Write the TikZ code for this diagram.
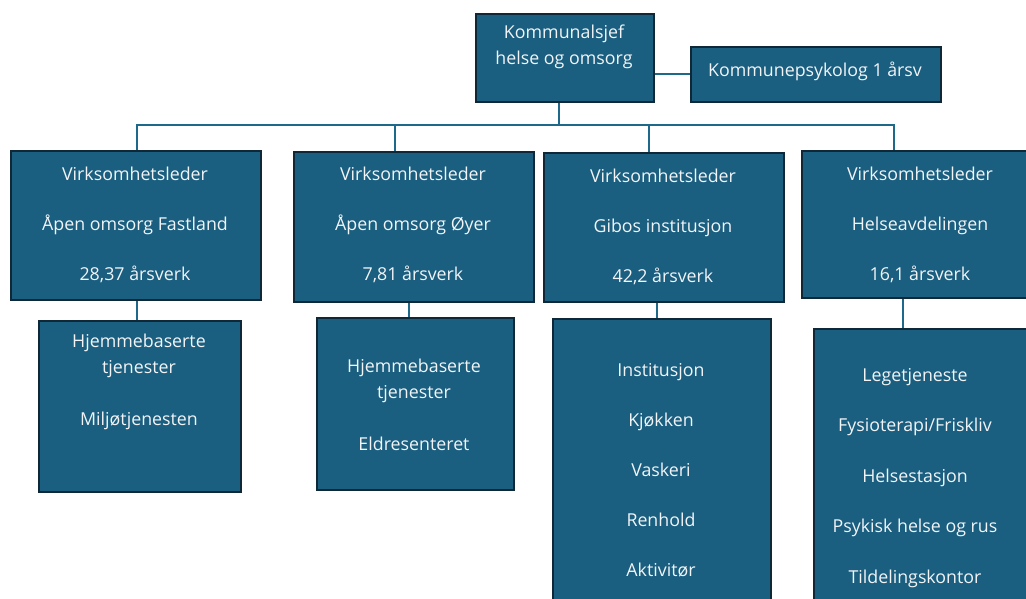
\documentclass[tikz,border=0pt]{standalone}
\usepackage{fontspec}
\setmainfont{Open Sans}
\definecolor{boxfill}{RGB}{26,94,128}
\definecolor{boxedge}{RGB}{14,40,56}
\definecolor{connc}{RGB}{30,104,138}
\definecolor{txtc}{RGB}{242,244,246}
\tikzset{
  box/.style={draw=boxedge, line width=1.6pt, fill=boxfill, inner sep=0pt, anchor=north west},
  txt/.style={text=txtc, align=center, inner sep=0pt, font=\fontsize{17.8}{26}\selectfont},
  wide/.style={txt, font=\fontsize{17.8}{50}\selectfont},
  conn/.style={draw=connc, line width=1.8pt}
}
\begin{document}
\begin{tikzpicture}[x=1pt,y=-1pt]
\useasboundingbox (0,0) rectangle (1026,599);
% boxes
\node[box, minimum width=178pt, minimum height=88pt] (top) at (475,13) {};
\node[box, minimum width=250pt, minimum height=55pt] (psy) at (690,46) {};
\node[box, minimum width=250pt, minimum height=149pt] (b1) at (10,150) {};
\node[box, minimum width=240pt, minimum height=150pt] (b2) at (293,151) {};
\node[box, minimum width=240pt, minimum height=149pt] (b3) at (543,152) {};
\node[box, minimum width=240pt, minimum height=147pt] (b4) at (801,150) {};
\node[box, minimum width=202pt, minimum height=171pt] (l1) at (38,320) {};
\node[box, minimum width=197pt, minimum height=172pt] (l2) at (316,317) {};
\node[box, minimum width=218pt, minimum height=300pt] (l3) at (552,318) {};
\node[box, minimum width=230pt, minimum height=290pt] (l4) at (813,328) {};
% texts
\node[txt, anchor=north] (ttop) at (564,25) {Kommunalsjef\\helse og omsorg};
\node[txt] (tpsy) at (815,71) {Kommunepsykolog 1 årsv};
\node[wide] (tb1) at (135,225) {Virksomhetsleder\\Åpen omsorg Fastland\\28,37 årsverk};
\node[wide] (tb2) at (413,225) {Virksomhetsleder\\Åpen omsorg Øyer\\7,81 årsverk};
\node[wide] (tb3) at (663,227) {Virksomhetsleder\\Gibos institusjon\\42,2 årsverk};
\node[wide] (tb4) at (920,225) {Virksomhetsleder\\Helseavdelingen\\16,1 årsverk};
\node[txt] (tl1) at (139,382) {Hjemmebaserte\\tjenester\\[26pt]Miljøtjenesten};
\node[txt] (tl2) at (414,405) {Hjemmebaserte\\tjenester\\[26pt]Eldresenteret};
\node[wide] (tl3) at (661,470) {Institusjon\\Kjøkken\\Vaskeri\\Renhold\\Aktivitør};
\node[wide, font=\fontsize{17.8}{50.5}\selectfont] (tl4) at (915,478) {Legetjeneste\\Fysioterapi/Friskliv\\Helsestasjon\\Psykisk helse og rus\\Tildelingskontor};
% connectors
\coordinate (j) at (559,125);
\draw[conn] (top.east |- psy.west) -- (psy.west);
\draw[conn] (top.south -| j) -- (j);
\draw[conn] (j) -| ([xshift=1pt]b1.north);
\draw[conn] (j) -| ([xshift=-19pt]b2.north);
\draw[conn] (j) -| ([xshift=-15pt]b3.north);
\draw[conn] (j) -| ([xshift=-28pt]b4.north);
\draw[conn] ([xshift=1pt]b1.south) -- ([xshift=1pt]b1.south |- l1.north);
\draw[conn] ([xshift=-5pt]b2.south) -- ([xshift=-5pt]b2.south |- l2.north);
\draw[conn] ([xshift=-7pt]b3.south) -- ([xshift=-7pt]b3.south |- l3.north);
\draw[conn] ([xshift=-19pt]b4.south) -- ([xshift=-19pt]b4.south |- l4.north);
\end{tikzpicture}
\end{document}
